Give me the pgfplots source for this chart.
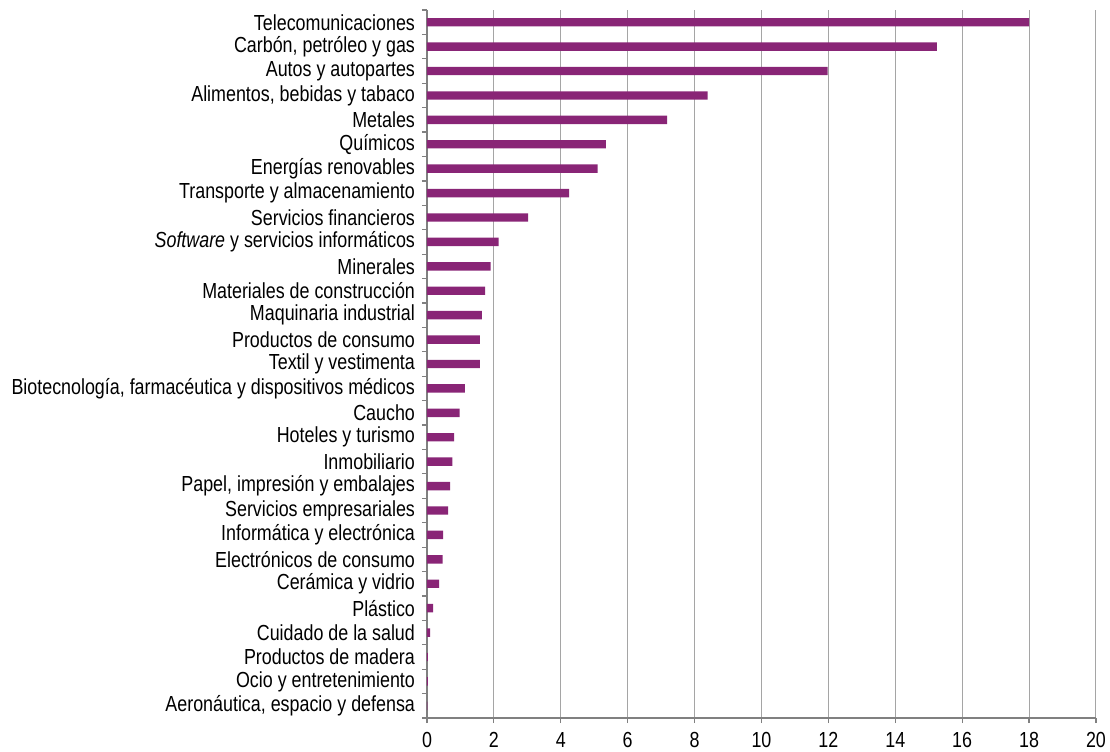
\documentclass[border=0pt]{standalone}
\usepackage{fontspec}
\setmainfont{Liberation Sans}[FakeStretch=0.82]
\usepackage{pgfplots}
\pgfplotsset{compat=1.18}
\definecolor{barc}{RGB}{137,37,118}
\definecolor{gridc}{RGB}{165,165,165}
\definecolor{axc}{RGB}{128,128,128}
\begin{document}
\begin{tikzpicture}
\begin{axis}[
  scale only axis,
  width=334.5pt, height=354pt,
  xbar, bar width=4.2pt,
  xmin=0, xmax=20,
  ymin=-0.5, ymax=28.5,
  y dir=reverse,
  xtick={0,2,...,20},
  ytick={0,...,28},
  minor ytick={-0.5,0.5,...,28.5},
  yticklabels={Telecomunicaciones,{Carbón, petróleo y gas},Autos y autopartes,{Alimentos, bebidas y tabaco},Metales,Químicos,Energías renovables,Transporte y almacenamiento,Servicios financieros,\textit{Software} y servicios informáticos,Minerales,Materiales de construcción,Maquinaria industrial,Productos de consumo,Textil y vestimenta,{Biotecnología, farmacéutica y dispositivos médicos},Caucho,Hoteles y turismo,Inmobiliario,{Papel, impresión y embalajes},Servicios empresariales,Informática y electrónica,Electrónicos de consumo,Cerámica y vidrio,Plástico,Cuidado de la salud,Productos de madera,Ocio y entretenimiento,{Aeronáutica, espacio y defensa}},
  axis x line*=bottom, axis y line*=left,
  axis line style={-, draw=axc, line width=0.6pt},
  tick align=outside,
  major tick length=2.5pt, minor tick length=2.5pt,
  major y tick style={draw=none},
  minor y tick style={draw=axc, line width=0.6pt},
  major x tick style={draw=axc, line width=0.6pt},
  xmajorgrids, major x grid style={draw=gridc, line width=0.5pt},
  /pgf/number format/assume math mode=true,
  ticklabel style={font=\fontsize{10.9}{12}\selectfont},
  yticklabel style={xshift=0pt},
  xticklabel style={yshift=-1pt},
  clip=false,
]
\addplot[fill=barc, draw=none] coordinates {
(18.0,0) (15.24,1) (11.98,2) (8.39,3) (7.18,4) (5.35,5) (5.10,6) (4.25,7) (3.02,8) (2.14,9)
(1.90,10) (1.74,11) (1.64,12) (1.58,13) (1.58,14) (1.13,15) (0.975,16) (0.81,17) (0.76,18) (0.69,19)
(0.63,20) (0.48,21) (0.47,22) (0.36,23) (0.18,24) (0.09,25) (0.03,26) (0.03,27) (0.01,28)
};
\end{axis}
\pgfresetboundingbox
\path (current axis.south west) ++(-213.5pt,-16.5pt) rectangle ++(555pt,375.5pt);
\end{tikzpicture}
\end{document}
